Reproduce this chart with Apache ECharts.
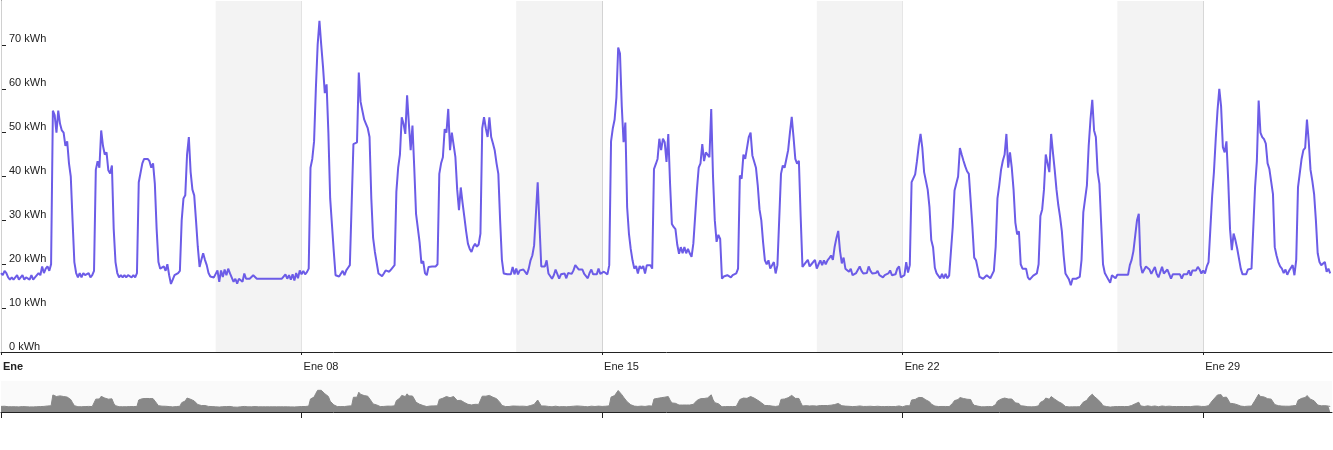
<!DOCTYPE html>
<html><head><meta charset="utf-8">
<script src="https://cdn.jsdelivr.net/npm/echarts@6/dist/echarts.min.js"></script>
<style>html,body{margin:0;padding:0;background:#fff}#c{width:1333px;height:450px}</style>
</head><body><div id="c"></div>
<script>
// Hourly consumption (kWh), January, one array per day (24 hourly values)
const jan01 = [18,17.5,18.5,18,17,16.5,17,16.5,17,17.5,16.5,17,17.5,16.5,17,17,16.5,17.5,16.5,17,17,18,17.5,19.5];
const jan02 = [18,19,19.5,18.5,20,55,54,50,55,52,50.5,50,47,48,43,40,30,20.5,18,17,18,17,18,17.5];
const jan03 = [17.5,18,17,17.5,18.5,41.5,43.5,42,50.5,47,45,45.5,41.4,40.7,42.5,28,20.5,18,17,17.5,17,17.5,17,17.5];
const jan04 = [17.5,17,17.5,17,18,38.7,39,43,44,43.6,44,43.5,42,43,38.3,28,20.5,19,18.8,19.5,18.5,20,17.5,15.5];
const jan05 = [16.5,17.5,17.5,18,18.5,30,35,35.7,45,49,41,37,35.7,30,24,19.4,21,22.5,21,19.8,18,17.2,17.5,17];
const jan06 = [16.7,18.6,16,18.6,17.1,18.8,17.5,19,17.9,17.5,16,16.7,15.6,16.7,16.7,16,17.9,16.7,16.7,16.7,16.7,17.5,17.5,16.7];
const jan07 = [16.7,16.7,16.7,16.7,16.7,16.7,16.7,16.7,16.7,16.7,16.7,16.7,16.7,16.7,16.7,17.7,16.7,17.5,16.5,17.7,16.3,18,16.8,18.6];
const jan08 = [17.7,18.5,17.7,18.2,19,42,44,48,60,70,75.5,70,65,59,61,50,35,29,23,17.5,17.5,17.2,17.5,18.5];
const jan09 = [17.5,18.6,19.2,19.8,19.8,47.4,47.6,47.8,63.7,57,57,53,52,51,49,35,26,22.8,22.8,17.9,17.5,17.3,17.9,18.6];
const jan10 = [19,18.3,18.8,19,19.8,36.5,42,45,53.5,52,49.7,58.5,52,46,51.6,42,31.5,31.5,25,20.2,20.7,18,17.5,19.4];
const jan11 = [19.4,19.5,19.7,19.5,20,40.6,43,44.4,50.8,50,55.4,46,50,50,44.4,37,32.3,37.5,34,30.8,27.5,24.7,23.5,22.8];
const jan12 = [24,24.7,24,24.5,27,51,53.5,51,49,53.5,49,47.5,45.9,43,40.6,30,21,17.9,17.7,17.7,17.7,17.7,19.4,17.7];
const jan13 = [19,17.7,18.6,18.8,18.8,18.8,17.7,19,20.9,22,24.3,24.5,38.7,29,19.5,19.3,19.5,20.9,17.9,17.7,16.7,17.5,18.8,18.8];
const jan14 = [16.7,17.7,17.4,17.9,16.8,18,17.6,17.8,18.6,19.8,19.5,18.8,18.8,18.8,17.8,17.7,16.8,18,18.8,17.7,17.7,17.7,19,17.8];
const jan15 = [17.9,18.3,18.6,17.7,19.8,48,51,53,58,69.4,68,56,47.8,52.3,33,27,23.5,20.9,19,19.6,17.9,19.6,19,19.6];
const jan16 = [17.9,19.8,19.8,19.8,19,41.7,42.8,44,48.6,46,48.6,47.8,43.3,49.7,38.3,29.2,28.5,28,24.5,22.4,23.9,22.5,23.9,22.5];
const jan17 = [23.5,22.5,21.7,24.7,24.7,37,42,43,47.4,43.5,45.5,45.5,44.4,55.4,40,30,25.1,26.7,25.8,16.7,17.2,17.5,17.5,17.5];
const jan18 = [17,17.5,17.5,17.9,19,40.2,39.5,45,44,44,49,50,44.8,44.8,42,38,32.5,30,25,20.9,20,20.9,19,19];
const jan19 = [20.5,17.9,19.8,19.8,40.6,42.5,42,44,46,50,53.6,49,44,42.9,43.6,30.8,19.4,19.8,20.5,21,19.5,20,20,21];
const jan20 = [19,20,20.9,19.8,20.9,20,20.9,21.4,22,21,24,26,27.6,23,20.2,21.5,19,19.2,18.3,19,17.5,17.5,18,18];
const jan21 = [19.5,18.5,17.9,18,18,19.5,18.5,17.9,17.5,18,18.5,17.5,17.5,17,17.5,17.7,17.9,18.6,17.5,17.5,17.7,19,19.5,17];
const jan22 = [16.8,17.5,20.5,18.1,19.8,38.7,39,40.5,43.5,47,49.7,46.5,41,39,37,33,25.5,23.9,19.2,17.9,17.6,16.8,17.8,16.8];
const jan23 = [17.8,16.8,17.4,17.8,28.5,36.8,36.9,40,46.5,45,43.6,42.3,41.2,40.6,40.3,28.5,21.5,20.9,19,17.1,16.8,16.7,16.8,17.5];
const jan24 = [17.8,16.8,16.9,18.5,24,35,38,41.5,43.6,45,49.7,42,45.5,42,37,29.5,26.8,27.5,20,19,19,19,17,16.5];
const jan25 = [16.7,17.4,17.1,17.9,20,31,32.5,37,45,43,41,49.7,45.5,41.5,37,33.5,30.8,27.5,22,17.9,17.6,16.5,15.2,16.7];
const jan26 = [16.7,16.7,16.7,17.1,21,31.9,31.9,38,47,53,57.5,50.5,49,41,38.3,29,20,18,17.6,16.5,15.8,17.5,17.2,16.8];
const jan27 = [17.6,17.6,17.6,17.6,17.6,17.6,17.6,19.8,21,23,26.5,30,31.5,19.8,18,17.7,19.5,19.8,18.8,17.8,17.9,19.4,17.8,17];
const jan28 = [17,19.4,17.9,17.9,18.8,18.8,16.7,17.7,17.7,17.7,17.7,17.7,16.7,17.7,17.7,17.7,18.6,17.4,18.6,19,18.6,19.4,18.8,17.9];
const jan29 = [18.6,17.9,19.5,20.5,28,35.5,41,48.5,55,60,56,46.7,45.5,48,39,28,23.2,27,25.5,23.6,23.3,19,17.7,17.7];
const jan30 = [17.7,18.8,19.2,19,19,37.6,43.5,57.3,50,49,48.5,47.5,43,41.7,41.5,36,23.9,22,20.5,19.5,19,18,18.8,17.6];
const jan31 = [18.5,18.8,19.8,17.5,21,37.6,37.6,44,46,46.5,53,48,41.5,39,36,30,22.5,20.5,19.8,19.8,20.5,18.3,19,17.9];

const dailyValues = [jan01,jan02,jan03,jan04,jan05,jan06,jan07,jan08,jan09,jan10,jan11,jan12,jan13,jan14,jan15,jan16,
  jan17,jan18,jan19,jan20,jan21,jan22,jan23,jan24,jan25,jan26,jan27,jan28,jan29,jan30,jan31];
const weekendSaturdays = [6, 13, 20, 27];          // day of month where a weekend starts (Sat + Sun)
const tickDays = [1, 8, 15, 22, 29];               // labelled days on the time axis
const xTickLabels = ['Ene', 'Ene 08', 'Ene 15', 'Ene 22', 'Ene 29'];
const yUnit = 'kWh';

const hourly = [].concat(...dailyValues);
const seriesData = hourly.map((v, i) => [i, v]);
const axisEnd = dailyValues.length * 24;           // Feb 01 00:00
const tickHours = tickDays.map(d => (d - 1) * 24);
const weekendAreas = weekendSaturdays.map(d => [{xAxis: (d - 1) * 24}, {xAxis: (d + 1) * 24}]);

const chart = echarts.init(document.getElementById('c'), null, {renderer: 'canvas'});
const fontFamily = 'Liberation Sans, Arial, sans-serif';
chart.setOption({
  animation: false,
  backgroundColor: '#ffffff',
  grid: [
    {left: 1, right: 1, top: 1, bottom: 98},
    {left: 1, right: 1, top: 381, bottom: 38, show: true, backgroundColor: '#fafafa', borderWidth: 0}
  ],
  xAxis: [
    {
      type: 'value', gridIndex: 0, min: 0, max: axisEnd, interval: 168, z: 1,
      axisLine: {show: true, onZero: false, lineStyle: {color: '#222', width: 1}},
      axisTick: {show: true, length: 3, lineStyle: {color: '#222'}, customValues: tickHours},
      splitLine: {show: true, lineStyle: {color: '#d0d0d0', width: 1}},
      axisLabel: {
        show: true, align: 'left', margin: 9, fontSize: 11, color: '#222', fontFamily,
        customValues: tickHours,
        formatter: v => {
          const i = tickHours.indexOf(Math.round(v));
          if (i < 0) return '';
          return i === 0 ? '{b|' + xTickLabels[i] + '}' : '{n|' + xTickLabels[i] + '}';
        },
        rich: {
          b: {fontWeight: 'bold', fontSize: 11, color: '#222', fontFamily, padding: [0, 0, 0, 2]},
          n: {fontSize: 11, color: '#222', fontFamily, padding: [0, 0, 0, 2]}
        }
      }
    },
    {
      type: 'value', gridIndex: 1, min: 0, max: axisEnd, interval: 168,
      axisLine: {show: true, onZero: false, lineStyle: {color: '#222', width: 1}},
      axisTick: {show: true, length: 6, lineStyle: {color: '#222'}, customValues: tickHours},
      splitLine: {show: false},
      axisLabel: {show: false}
    }
  ],
  yAxis: [
    {
      type: 'value', gridIndex: 0, min: 0, max: 80, interval: 10,
      axisLine: {show: true, lineStyle: {color: '#222', width: 1}},
      axisTick: {show: true, inside: true, length: 5, lineStyle: {color: '#222'}},
      splitLine: {show: false},
      axisLabel: {
        inside: true, margin: 8, verticalAlign: 'bottom', align: 'left', showMaxLabel: false,
        fontSize: 11, color: '#222', fontFamily,
        formatter: v => v + ' ' + yUnit
      }
    },
    {
      type: 'value', gridIndex: 1, min: 0, max: 100, show: false,
      axisLine: {show: false}, axisTick: {show: false}, splitLine: {show: false}, axisLabel: {show: false}
    }
  ],
  series: [
    {
      type: 'line', xAxisIndex: 0, yAxisIndex: 0, data: [], z: 0, silent: true,
      markArea: {silent: true, itemStyle: {color: '#f3f3f3'}, data: weekendAreas}
    },
    {
      type: 'line', xAxisIndex: 0, yAxisIndex: 0, data: seriesData, z: 2,
      symbol: 'none', showSymbol: false,
      lineStyle: {color: '#6c5ce7', width: 2},
      itemStyle: {color: '#6c5ce7'}
    },
    {
      type: 'line', xAxisIndex: 1, yAxisIndex: 1, data: seriesData,
      symbol: 'none', showSymbol: false,
      lineStyle: {color: '#888888', width: 1},
      areaStyle: {color: '#888888', opacity: 1}
    }
  ]
});
</script>
</body></html>
